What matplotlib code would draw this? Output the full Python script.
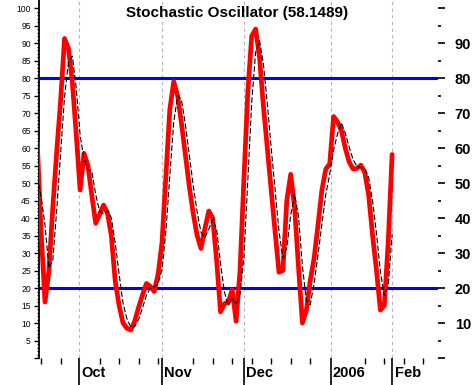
import numpy as np
import matplotlib
matplotlib.use("Agg")
import matplotlib.pyplot as plt
from matplotlib.transforms import ScaledTranslation

# %K (red) daily values
k_values = [62, 36, 16, 25, 43, 59, 73.5, 91.3, 88.5, 79,
            64, 48, 58.5, 55, 46.5, 38.5, 41, 43.7, 41.5, 35,
            22, 15, 10, 8.5, 8, 10.5, 14.5, 18, 21.3, 20.5,
            19, 24, 33, 52, 71, 79, 75, 67, 58, 49,
            41.3, 35, 31.3, 37, 42, 40, 28, 13.2, 15.5, 16,
            19.5, 10.5, 25, 51, 76, 92, 94, 86, 72, 60,
            48, 36, 24.5, 25, 45, 52.5, 43, 26, 10, 13.5,
            22, 28.5, 38, 48, 54, 55.5, 69, 67.5, 65, 60,
            56, 54, 54.2, 55.1, 53, 46.5, 35, 25, 13.7, 15,
            33, 58.1489]

# %D (black) daily values
d_values = [52, 46, 38, 25.7, 28, 42.3, 58.5, 74.6, 84.4, 86.3,
            77.2, 63.7, 56.8, 53.8, 53.3, 46.7, 42, 41.1, 42.1, 40.1,
            32.8, 24, 15.7, 11.2, 8.8, 9, 11, 14.3, 17.9, 19.9,
            20.3, 21.2, 25.3, 36.3, 52, 67.3, 75, 73.7, 66.7, 58,
            49.4, 41.8, 35.9, 34.4, 36.8, 39.7, 36.7, 27.1, 18.9, 14.9,
            17, 15.3, 18.3, 28.8, 50.7, 73, 87.3, 90.7, 84, 72.7,
            60, 48, 36.2, 28.5, 31.5, 40.8, 46.8, 40.5, 26.3, 16.5,
            15.2, 21.3, 29.5, 38.2, 46.7, 52.5, 59.5, 64, 67.2, 64.2,
            60.3, 56.7, 54.7, 54.4, 54.1, 51.5, 44.8, 35.5, 24.6, 17.9,
            20.6, 35.4]

month_labels = ["Oct", "Nov", "Dec", "2006", "Feb"]
month_pos = [10.8, 32.1, 52.9, 75.3, 91.1]
week_pos = [1, 6, 16, 21, 26, 31, 40, 45, 50, 55, 60, 65, 70, 84, 89, 94, 99]
levels = [20, 80]
left_ticks = list(range(0, 101, 5))
right_ticks = list(range(0, 101, 10))
right_labels = [str(v) if 0 < v < 100 else "" for v in right_ticks]
left_labels = [str(v) if v > 0 else "" for v in left_ticks]
title = "Stochastic Oscillator (58.1489)"

plt.rcParams['font.family'] = ['Liberation Sans', 'DejaVu Sans']

W, H = 476, 385
fig = plt.figure(figsize=(W / 100, H / 100), dpi=100)
fig.patch.set_facecolor('white')

ax_l, ax_r, ax_t, ax_b = 38.5, 438, 0, 358
ax = fig.add_axes([ax_l / W, (H - ax_b) / H, (ax_r - ax_l) / W, (ax_b - ax_t) / H])
ax.set_facecolor('white')

idx = np.arange(len(k_values))

for lv in levels:
    ax.axhline(lv, color='#0000ff', linewidth=2.2, zorder=2)

ax.plot(idx, k_values, color='#ff0000', linewidth=3.4, solid_joinstyle='round',
        solid_capstyle='round', zorder=3)
ax.plot(idx, d_values, color='black', linewidth=0.8, linestyle=(0, (5, 2)), zorder=4)

ax.set_xlim(0.33, 102.77)
ax.set_ylim(0, 102.3)

# left axis
ax.set_yticks(left_ticks)
ax.set_yticklabels(left_labels, fontsize=6.2)
ax.set_yticks(range(0, 101), minor=True)
ax.tick_params(axis='y', which='major', length=3.5, width=1.0, pad=2)
ax.tick_params(axis='y', which='minor', length=1.8, width=0.8)
for s in ['top', 'right', 'bottom']:
    ax.spines[s].set_visible(False)
ax.spines['left'].set_linewidth(1.3)

# right axis
ax2 = ax.twinx()
ax2.set_ylim(ax.get_ylim())
ax2.set_yticks(right_ticks)
ax2.set_yticklabels(right_labels, fontsize=10.5, fontweight='bold')
ax2.set_yticks(list(range(5, 100, 10)), minor=True)
ax2.tick_params(axis='y', which='major', length=5, width=1.2, pad=7, direction='out')
ax2.tick_params(axis='y', which='minor', length=2.3, width=1.2, direction='out')
for s in ax2.spines.values():
    s.set_visible(False)

# x axis (months and weeks)
ax.set_xticks(month_pos)
ax.set_xticklabels(month_labels, fontsize=10.5, fontweight='bold')
ax.set_xticks(week_pos, minor=True)
ax.grid(axis='x', which='major', color='#b4b4b4', linestyle=(0, (3, 3)), linewidth=0.8)
ax.tick_params(axis='x', which='major', length=19.5, width=1.2, pad=-13.5, direction='out')
ax.tick_params(axis='x', which='minor', length=4.5, width=1.0, direction='out')
offset = ScaledTranslation(1.5 / 72, 0, fig.dpi_scale_trans)
for lab in ax.get_xticklabels():
    lab.set_horizontalalignment('left')
    lab.set_transform(lab.get_transform() + offset)

fig.text(237 / W, 1 - 12.5 / H, title, ha='center', va='center',
         fontsize=11, fontweight='bold')

fig.savefig('out.png', dpi=100)
